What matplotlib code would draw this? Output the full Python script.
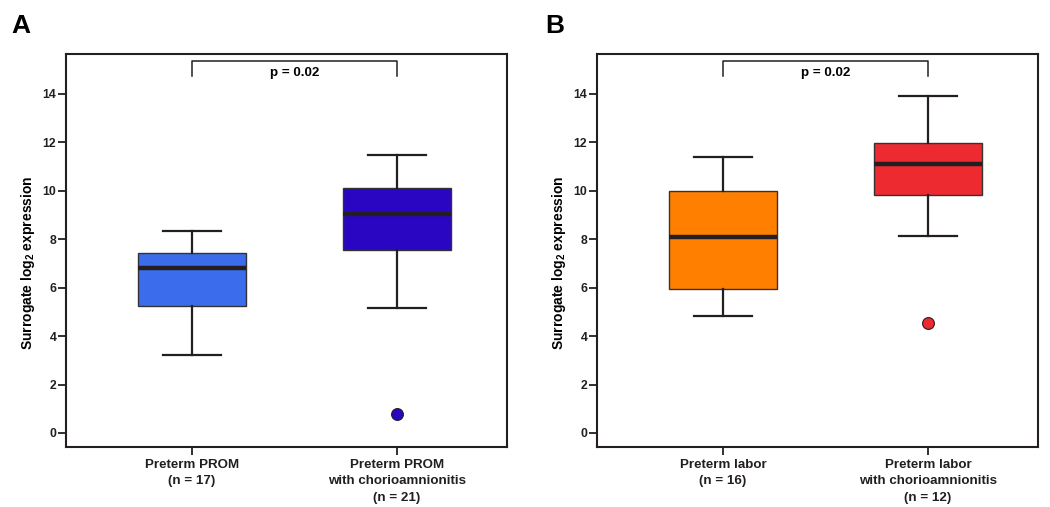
import matplotlib
matplotlib.use('Agg')
from matplotlib import pyplot as plt

plt.rcParams['font.family'] = ['Liberation Sans', 'DejaVu Sans']
plt.rcParams['font.weight'] = 'bold'
plt.rcParams['mathtext.default'] = 'regular'

# panel A
labels_a = ['Preterm PROM\n(n = 17)', 'Preterm PROM\nwith chorioamnionitis\n(n = 21)']
whislo_a = [3.22, 5.17]
q1_a = [5.25, 7.56]
med_a = [6.80, 9.05]
q3_a = [7.44, 10.10]
whishi_a = [8.36, 11.47]
fliers_a = [[], [0.79]]
colors_a = ['#3a6cec', '#2a06c2']

# panel B
labels_b = ['Preterm labor\n(n = 16)', 'Preterm labor\nwith chorioamnionitis\n(n = 12)']
whislo_b = [4.82, 8.15]
q1_b = [5.95, 9.82]
med_b = [8.09, 11.10]
q3_b = [9.99, 11.98]
whishi_b = [11.38, 13.92]
fliers_b = [[], [4.55]]
colors_b = ['#ff8000', '#ec2a30']

p_text = 'p = 0.02'
yticks = [0, 2, 4, 6, 8, 10, 12, 14]


def draw_panel(ax, labels, whislo, q1, med, q3, whishi, fliers, colors):
    stats = []
    for i in range(len(labels)):
        stats.append(dict(whislo=whislo[i], q1=q1[i], med=med[i], q3=q3[i],
                          whishi=whishi[i], fliers=fliers[i]))
    bp = ax.bxp(stats, positions=[1, 2], widths=0.53, capwidths=0.28,
                patch_artist=True,
                boxprops=dict(edgecolor='#333333', linewidth=1.0),
                medianprops=dict(color='#231f20', linewidth=3.2),
                whiskerprops=dict(color='#231f20', linewidth=1.6),
                capprops=dict(color='#231f20', linewidth=1.6))
    for patch, c in zip(bp['boxes'], colors):
        patch.set_facecolor(c)
    for fl, c in zip(bp['fliers'], colors):
        fl.set_marker('o')
        fl.set_markerfacecolor(c)
        fl.set_markeredgecolor('#231f20')
        fl.set_markeredgewidth(0.8)
        fl.set_markersize(8.5)

    # significance bracket
    ax.plot([1, 1, 2, 2], [14.75, 15.37, 15.37, 14.75], color='#231f20', lw=1.1)
    ax.text(1.5, 14.88, p_text, ha='center', va='center', fontsize=9.6, fontweight='bold')

    ax.set_xlim(0.385, 2.537)
    ax.set_ylim(-0.58, 15.65)
    ax.set_yticks(yticks)
    ax.set_xticks([1, 2])
    ax.set_xticklabels(labels, fontsize=9.6, fontweight='bold', linespacing=1.5)
    ax.set_ylabel('Surrogate log$_2$ expression', fontsize=10, fontweight='bold')
    ax.yaxis.set_label_coords(-0.066, 0.468)
    ax.tick_params(axis='both', direction='out', length=6, width=1.3, colors='#231f20')
    ax.tick_params(axis='y', labelsize=8.8, pad=1)
    ax.tick_params(axis='x', pad=2.5)
    for s in ax.spines.values():
        s.set_linewidth(1.5)
        s.set_color('#231f20')


fig = plt.figure(figsize=(10.5, 5.07), dpi=100)
ax1 = fig.add_axes([0.0629, 0.1183, 0.42, 0.7751])
ax2 = fig.add_axes([0.5686, 0.1183, 0.42, 0.7751])

draw_panel(ax1, labels_a, whislo_a, q1_a, med_a, q3_a, whishi_a, fliers_a, colors_a)
draw_panel(ax2, labels_b, whislo_b, q1_b, med_b, q3_b, whishi_b, fliers_b, colors_b)

fig.text(0.011, 0.935, 'A', fontsize=19, fontweight='bold')
fig.text(0.519, 0.935, 'B', fontsize=19, fontweight='bold')

fig.savefig('out.png', dpi=100)
